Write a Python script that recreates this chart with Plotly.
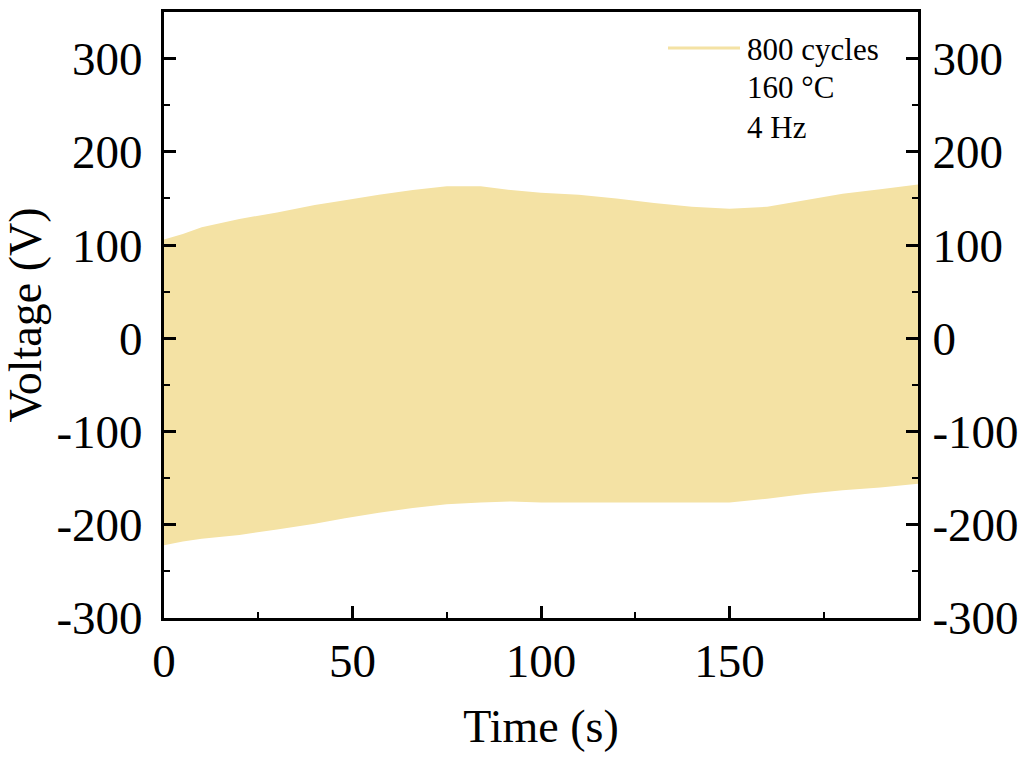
import plotly.graph_objects as go

# Envelope of the 4 Hz voltage signal (time in s, voltage in V)
time_s = [0, 5, 10, 20, 30, 40, 48, 57, 66, 75, 84, 92, 100, 110, 120, 130, 140, 150, 160, 170, 180, 190, 200]
v_upper = [106, 112, 119, 128, 135, 143, 148, 154, 159, 163, 163, 159, 156, 154, 150, 145, 141, 139, 141, 148, 155, 160, 165]
v_lower = [-222, -218, -215, -211, -205, -199, -193, -187, -182, -178, -176, -175, -176, -176, -176, -176, -176, -176, -172, -167, -163, -160, -156]

x_ticks = [0, 50, 100, 150]
y_ticks = [-300, -200, -100, 0, 100, 200, 300]
y_tick_text = ["-300", "-200", "-100", "0", "100", "200", "300"]
legend_lines = ["800 cycles", "160 °C", "4 Hz"]

FILL = "#F4E2A4"
FONT = "Liberation Serif, Times New Roman, serif"

fig = go.Figure()
fig.add_trace(go.Scatter(x=time_s, y=v_lower, mode="lines", line=dict(width=0, color=FILL),
                         showlegend=False, hoverinfo="skip"))
fig.add_trace(go.Scatter(x=time_s, y=v_upper, mode="lines", line=dict(width=0, color=FILL),
                         fill="tonexty", fillcolor=FILL, showlegend=False, name=legend_lines[0]))
# invisible trace to activate right-hand axis
fig.add_trace(go.Scatter(x=[time_s[0]], y=[0], yaxis="y2", mode="markers",
                         marker=dict(opacity=0), showlegend=False, hoverinfo="skip"))

axis_common = dict(showline=True, linewidth=3, linecolor="black", ticks="inside",
                   ticklen=12, tickwidth=3, tickcolor="black", showgrid=False, zeroline=False,
                   automargin=False,
                   tickfont=dict(family=FONT, size=47, color="black"))

fig.update_layout(
    width=1026, height=758,
    margin=dict(l=164, r=108, t=12, b=140),
    paper_bgcolor="white", plot_bgcolor="white",
    font=dict(family=FONT, color="black"),
    xaxis=dict(range=[0, 200], tickvals=x_ticks, mirror=True,
               minor=dict(ticks="inside", ticklen=6, tickwidth=2, dtick=25, tick0=0, tickcolor="black"),
               title=dict(text="Time (s)", font=dict(family=FONT, size=46), standoff=24),
               ticklabelstandoff=0, **axis_common),
    yaxis=dict(range=[-300, 350], tickvals=y_ticks, ticktext=y_tick_text,
               minor=dict(ticks="inside", ticklen=6, tickwidth=2, dtick=50, tick0=0, tickcolor="black"),
               title=dict(text="Voltage (V)", font=dict(family=FONT, size=46), standoff=8),
               ticklabelstandoff=9, **axis_common),
    yaxis2=dict(range=[-300, 350], tickvals=y_ticks, ticktext=y_tick_text, overlaying="y", side="right",
                minor=dict(ticks="inside", ticklen=6, tickwidth=2, dtick=50, tick0=0, tickcolor="black"),
                ticklabelstandoff=2, **axis_common),
    showlegend=False,
)

# legend sample line and text
fig.add_shape(type="line", xref="paper", yref="paper",
              x0=(668 - 164) / 754, x1=(740 - 164) / 754, y0=(618 - 48) / 606, y1=(618 - 48) / 606,
              line=dict(color=FILL, width=3))
for i, txt in enumerate(legend_lines):
    fig.add_annotation(text=txt, xref="paper", yref="paper", x=(745 - 164) / 754,
                       y=(618 - 49 - 39 * i) / 606, xanchor="left", yanchor="middle",
                       showarrow=False, font=dict(family=FONT, size=31, color="black"))

fig.write_html("out.html")
